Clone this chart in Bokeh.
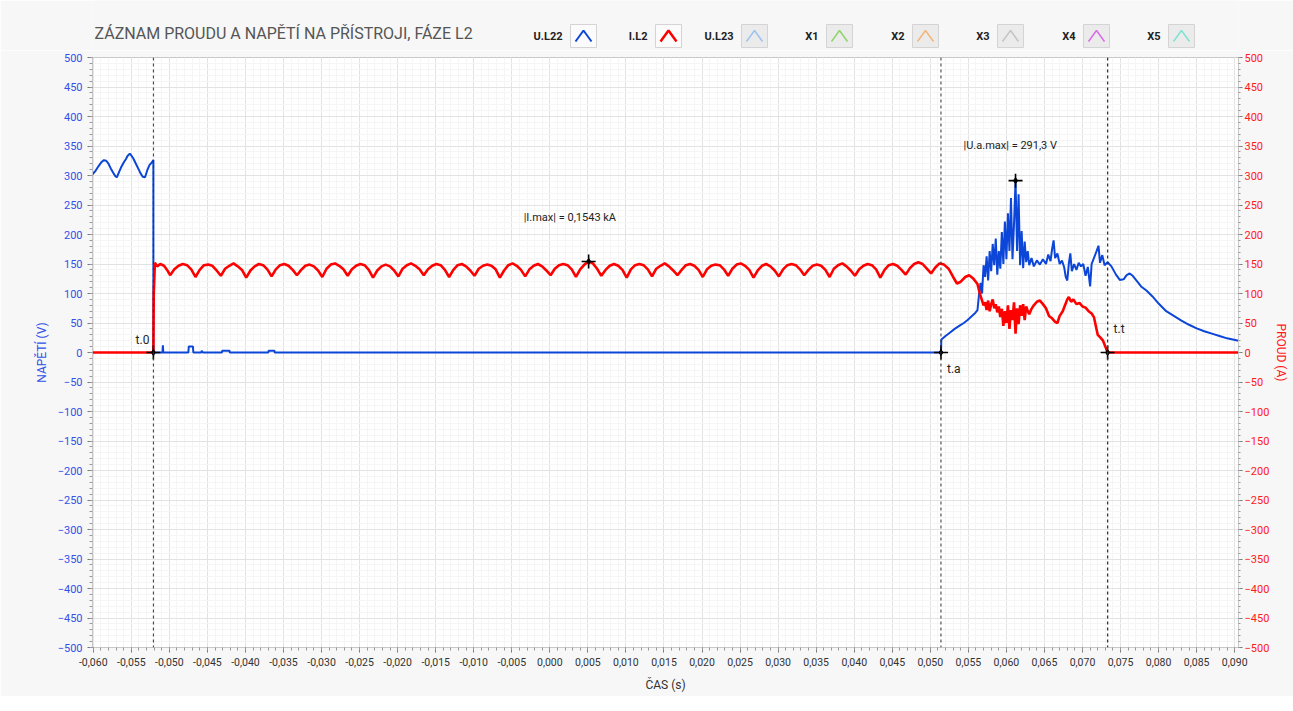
import numpy as np
from bokeh.plotting import figure
from bokeh.models import Range1d, LinearAxis, FixedTicker, CustomJSTickFormatter, Span, Label
from bokeh.layouts import column
from bokeh.embed import file_html
from bokeh.resources import INLINE
from bokeh.core.properties import value

FONT = "Roboto"

# ---------------- texts ----------------
titulek = "ZÁZNAM PROUDU A NAPĚTÍ NA PŘÍSTROJI, FÁZE L2"
nazvy = ["U.L22", "I.L2", "U.L23", "X1", "X2", "X3", "X4", "X5"]
barvy = ["#0b46d8", "#ff0000", "#9dc3f0", "#8fd46a", "#f3b679", "#c4c4c4", "#d96be8", "#7fe3d2"]
osa_x_nazev = "ČAS (s)"
osa_u_nazev = "NAPĚTÍ (V)"
osa_i_nazev = "PROUD (A)"

# ---------------- ticks ----------------
x_ticks = [round(-0.060 + 0.005 * k, 3) for k in range(31)]
x_minor = [round(-0.060 + 0.001 * k, 3) for k in range(151)]
y_ticks = list(range(-500, 501, 50))
y_minor = list(range(-500, 501, 10))

# ---------------- cursors / markers ----------------
t0 = -0.0521
ta = 0.0514
tt = 0.0733
i_max_t, i_max = 0.0051, 154.3
u_max_t, u_max = 0.0612, 291.3
text_i_max = "|I.max| = 0,1543 kA"
text_u_max = "|U.a.max| = 291,3 V"

# ---------------- voltage U.L22 ----------------
cas_u_pred = [-0.0601, -0.0597, -0.0593, -0.0589, -0.0586, -0.0583, -0.0580, -0.0577, -0.0574, -0.0571,
              -0.0569, -0.0566, -0.0563, -0.0560, -0.0557, -0.0555, -0.0552, -0.0550, -0.0547, -0.0544,
              -0.0541, -0.0538, -0.0535, -0.0532, -0.0529, -0.0526, -0.0523, -0.0521]
napeti_pred = [302, 308, 316, 323, 326, 325, 320, 312, 305, 299,
               297, 306, 315, 322, 328, 333, 337, 334, 328, 320,
               312, 304, 298, 297, 309, 318, 322, 326]

cas_u_klid = [-0.0521, -0.0509, -0.05085, -0.0508, -0.0475, -0.04745, -0.0469, -0.04685, -0.0458, -0.04575,
              -0.0456, -0.0431, -0.04305, -0.0421, -0.04205, -0.0370, -0.03695, -0.0362, -0.03615, 0.0514]
napeti_klid = [0, 0, 12, 0, 0, 10, 10, 0, 0, 3,
               0, 0, 3, 3, 0, 0, 3, 3, 0, 0]

cas_u_obl = [0.05145, 0.0520, 0.0526, 0.0532, 0.0538, 0.0544, 0.0549, 0.0554, 0.0559, 0.0562,
             0.0564, 0.0566, 0.0568, 0.0570, 0.0572, 0.0574, 0.0576, 0.0578, 0.0580, 0.0582,
             0.0584, 0.0586, 0.0588, 0.0590, 0.0592, 0.0594, 0.0596, 0.0598, 0.0600, 0.0602,
             0.0604, 0.0606, 0.0608, 0.0610, 0.0612, 0.0614, 0.0616, 0.0618, 0.0620, 0.0622,
             0.0624, 0.0626, 0.0628, 0.0630, 0.0633, 0.0636, 0.0640, 0.0644, 0.0648, 0.0652,
             0.0655, 0.0658, 0.0660, 0.0662, 0.0664, 0.0667, 0.0670, 0.0673, 0.0676, 0.0678,
             0.0680, 0.0682, 0.0684, 0.0686, 0.0689, 0.0692, 0.0695, 0.0698, 0.0701, 0.0704,
             0.0707, 0.0710, 0.0712, 0.0715, 0.0718, 0.0721, 0.0723, 0.0726, 0.0729, 0.0733,
             0.0738, 0.0744, 0.0749, 0.0754, 0.0758, 0.0762, 0.0766, 0.0771, 0.0777, 0.0784,
             0.0792, 0.0800, 0.0810, 0.0820, 0.0830, 0.0840, 0.0850, 0.0860, 0.0870, 0.0880,
             0.0890, 0.0905]
napeti_obl = [22, 28, 34, 40, 45, 50, 55, 61, 67, 72,
              98, 118, 100, 148, 128, 163, 122, 172, 138, 184,
              148, 193, 132, 172, 142, 204, 150, 222, 158, 236,
              172, 262, 158, 218, 291.3, 172, 268, 148, 206, 143,
              188, 153, 172, 148, 160, 146, 156, 149, 158, 150,
              166, 155, 175, 190, 160, 168, 150, 156, 144, 128,
              122, 150, 168, 138, 150, 140, 152, 146, 150, 130,
              145, 112, 150, 160, 170, 181, 152, 165, 148, 153,
              146, 132, 123, 124, 131, 134, 130, 122, 112, 105,
              95, 83, 70, 62, 54, 47, 41, 36, 32, 28,
              24, 20]

# ---------------- current I.L2 ----------------
cas_i_start = [-0.0601, -0.0521, -0.05205, -0.0519, -0.0516, -0.0512, -0.0507, -0.0503]
proud_start = [0, 0, 100, 152, 146, 150, 147, 140]

# ripple samples, 6 per 300 Hz period, starting at the first valley (-0.0499 s)
proud_zvl = [
    131, 141, 147, 150, 148, 141,
    128, 140, 148, 149, 147, 139,
    130, 142, 147, 151, 146, 140,
    127, 139, 146, 150, 148, 141,
    129, 141, 148, 150, 147, 140,
    131, 140, 147, 149, 146, 139,
    128, 142, 149, 151, 147, 141,
    130, 141, 147, 150, 148, 140,
    127, 139, 146, 149, 146, 139,
    129, 142, 148, 151, 147, 141,
    131, 141, 147, 150, 148, 140,
    128, 140, 148, 150, 146, 139,
    130, 142, 147, 149, 147, 141,
    127, 139, 148, 151, 147, 140,
    129, 141, 147, 150, 146, 139,
    131, 142, 148, 150, 148, 141,
    128, 141, 149, 154.3, 151, 142,
    130, 140, 147, 150, 147, 140,
    127, 141, 148, 150, 148, 141,
    129, 142, 147, 151, 146, 139,
    131, 140, 148, 150, 147, 140,
    128, 141, 147, 149, 148, 141,
    130, 142, 149, 151, 147, 140,
    127, 139, 147, 150, 146, 139,
    129, 141, 148, 150, 148, 141,
    131, 140, 147, 149, 147, 140,
    128, 142, 148, 151, 146, 139,
    130, 141, 147, 150, 148, 141,
    127, 140, 148, 150, 147, 140,
    132, 143, 150, 153, 150, 142,
    134, 144, 151,
]
zvl_start = -0.0499
zvl_krok = 0.0033333 / 6

cas_i_obl = [0.0518, 0.0524, 0.0530, 0.0535, 0.0540, 0.0546, 0.0551, 0.0556, 0.0562, 0.0565,
             0.0568, 0.0570, 0.0572, 0.0574, 0.0576, 0.0578, 0.0580, 0.0582, 0.0584, 0.0586,
             0.0588, 0.0590, 0.0592, 0.0594, 0.0596, 0.0598, 0.0600, 0.0602, 0.0604, 0.0606,
             0.0608, 0.0610, 0.0612, 0.0614, 0.0616, 0.0618, 0.0620, 0.0622, 0.0624, 0.0626,
             0.0628, 0.0630, 0.0633, 0.0636, 0.0640, 0.0644, 0.0648, 0.0652, 0.0656, 0.0660,
             0.0664, 0.0667, 0.0670, 0.0674, 0.0677, 0.0680, 0.0682, 0.0685, 0.0688, 0.0692,
             0.0696, 0.0700, 0.0704, 0.0708, 0.0712, 0.0715, 0.0718, 0.0720, 0.0723, 0.0727,
             0.0730, 0.0733, 0.0905]
proud_obl = [149, 142, 128, 117, 120, 128, 131, 126, 116, 100,
             88, 80, 85, 72, 88, 70, 82, 90, 75, 82,
             68, 78, 60, 74, 45, 70, 50, 80, 40, 72,
             55, 85, 32, 75, 48, 80, 62, 82, 55, 78,
             70, 65, 74, 80, 86, 88, 82, 75, 62, 58,
             52, 50, 62, 70, 80, 90, 94, 86, 90, 82,
             84, 78, 76, 70, 66, 60, 42, 30, 26, 20,
             10, 0, 0]

assert len(cas_u_pred) == len(napeti_pred)
assert len(cas_u_klid) == len(napeti_klid)
assert len(cas_u_obl) == len(napeti_obl)
assert len(cas_i_obl) == len(proud_obl)
assert len(cas_i_start) == len(proud_start)

cas_u = cas_u_pred + cas_u_klid + cas_u_obl
napeti = napeti_pred + napeti_klid + napeti_obl
cas_zvl = [zvl_start + k * zvl_krok for k in range(len(proud_zvl))]
cas_i = cas_i_start + cas_zvl + cas_i_obl
proud = proud_start + proud_zvl + proud_obl

# ---------------- layout ----------------
W = 1293
BG = "#f7f7f7"
HEAD_H = 50
FR_L, FR_R = 92, 1238          # frame left/right in page pixels
B_LEFT, B_RIGHT = FR_L, W - FR_R

# header (title + legend); its frame is aligned with the main frame, x/y in page pixels
hlava = figure(width=W, height=HEAD_H, x_range=Range1d(FR_L, FR_R), y_range=Range1d(HEAD_H, 0),
               toolbar_location=None, output_backend="svg", tools="", title=None,
               min_border_left=B_LEFT, min_border_right=B_RIGHT, min_border_top=0, min_border_bottom=0)
hlava.axis.visible = False
hlava.xgrid.visible = False
hlava.ygrid.visible = False
hlava.outline_line_color = None
hlava.background_fill_color = BG
hlava.border_fill_color = BG
hlava.text(x=[94], y=[33], text=[titulek], text_font=value(FONT), text_font_size="16px",
           text_color="#555555", text_baseline="middle", text_align="left")
leg_x = [570, 655, 741, 826, 912, 997, 1083, 1168]
box_fill = ["#fbfbfb", "#fbfbfb"] + ["#ebebeb"] * 6
hlava.quad(left=leg_x, right=[x + 26 for x in leg_x], top=[24] * 8, bottom=[47] * 8,
           fill_color=box_fill, line_color="#d4d4d4", line_width=1)
hlava.multi_line(xs=[[x + 5, x + 13, x + 21] for x in leg_x], ys=[[41, 30, 41]] * 8,
                 line_color=barvy, line_width=[2, 2.5, 1.5, 1.5, 1.5, 1.5, 1.5, 1.5])
hlava.text(x=[x - 8 for x in leg_x], y=[36] * 8, text=nazvy, text_font=value(FONT),
           text_font_size="11px", text_font_style="bold", text_color="#222222",
           text_align="right", text_baseline="middle")

p = figure(width=W, height=646, x_range=Range1d(-0.0601, 0.0905), y_range=Range1d(-500, 500),
           toolbar_location=None, output_backend="svg", tools="", title=None,
           min_border_left=B_LEFT, min_border_right=B_RIGHT, min_border_top=7, min_border_bottom=49)
p.background_fill_color = "white"
p.border_fill_color = BG
p.outline_line_color = "#c8c8c8"

xt = FixedTicker(ticks=x_ticks, minor_ticks=x_minor)
yt = FixedTicker(ticks=y_ticks, minor_ticks=y_minor)
p.xaxis.ticker = xt
p.xgrid.ticker = xt
p.yaxis.ticker = yt
p.ygrid.ticker = yt
p.xaxis.formatter = CustomJSTickFormatter(
    code="var v = Math.abs(tick) < 1e-9 ? 0 : tick; return v.toFixed(3).replace('.', ',');")

p.xgrid.grid_line_color = "#e3e3e3"
p.ygrid.grid_line_color = "#e3e3e3"
p.xgrid.minor_grid_line_color = "#f5f5f5"
p.ygrid.minor_grid_line_color = "#f5f5f5"


def styl_osy(ax, barva):
    ax.axis_line_color = "#c8c8c8"
    ax.major_tick_line_color = "#777777"
    ax.minor_tick_line_color = "#999999"
    ax.major_tick_in = 0
    ax.major_tick_out = 5
    ax.minor_tick_in = 0
    ax.minor_tick_out = 3
    ax.major_label_text_font = FONT
    ax.major_label_text_font_size = "11px"
    ax.major_label_text_color = barva
    ax.axis_label_text_font = FONT
    ax.axis_label_text_font_size = "12px"
    ax.axis_label_text_font_style = "normal"
    ax.axis_label_text_color = barva


xa = p.xaxis[0]
styl_osy(xa, "#333333")
xa.major_label_text_font_size = "10.5px"
xa.axis_label = osa_x_nazev
xa.major_label_standoff = 5
xa.axis_label_standoff = 9

ya = p.yaxis[0]
styl_osy(ya, "#3350e8")
ya.axis_label = osa_u_nazev
ya.major_label_standoff = 5
ya.axis_label_standoff = 6

p.extra_y_ranges = {"proud": Range1d(-500, 500)}
yi = LinearAxis(y_range_name="proud", ticker=FixedTicker(ticks=y_ticks, minor_ticks=y_minor))
styl_osy(yi, "#ff1a1a")
yi.axis_label = osa_i_nazev
yi.major_tick_out = 4
yi.minor_tick_out = 2
yi.major_label_standoff = 2
yi.axis_label_standoff = 2
p.add_layout(yi, "right")

# series
p.line(cas_u, napeti, line_color=barvy[0], line_width=2)
p.line(cas_i, proud, line_color=barvy[1], line_width=2.6, y_range_name="proud")

# cursors
for loc, w in [(t0, 1), (ta, 1), (tt, 1.3)]:
    p.add_layout(Span(location=loc, dimension="height", line_color="#333333",
                      line_dash="3 3", line_width=w))

bx = [t0, ta, tt]
by = [0, 0, 0]
p.scatter(bx, by, marker="cross", size=14, line_color="black", line_width=1.6)
p.scatter(bx, by, marker="diamond", size=6, color="black")
p.scatter([i_max_t], [i_max], marker="cross", size=14, line_color="black", line_width=1.6,
          y_range_name="proud")
p.scatter([i_max_t], [i_max], marker="diamond", size=6, color="black", y_range_name="proud")
p.scatter([u_max_t], [u_max], marker="cross", size=14, line_color="black", line_width=1.6)
p.scatter([u_max_t], [u_max], marker="diamond", size=6, color="black")

lab = dict(text_font=FONT, text_font_size="12px", text_color="#222222")
p.add_layout(Label(x=t0, y=0, x_offset=-4, y_offset=6, text="t.0", text_align="right",
                   text_baseline="bottom", **lab))
p.add_layout(Label(x=ta, y=0, x_offset=6, y_offset=-9, text="t.a", text_align="left",
                   text_baseline="top", **lab))
p.add_layout(Label(x=tt, y=0, x_offset=6, y_offset=17, text="t.t", text_align="left",
                   text_baseline="bottom", **lab))
p.add_layout(Label(x=i_max_t, y=i_max, x_offset=-65, y_offset=44, text=text_i_max,
                   text_align="left", text_baseline="middle", y_range_name="proud",
                   text_font=FONT, text_font_size="11px", text_color="#222222"))
p.add_layout(Label(x=u_max_t, y=u_max, x_offset=-52, y_offset=35, text=text_u_max,
                   text_align="left", text_baseline="middle",
                   text_font=FONT, text_font_size="11px", text_color="#222222"))

layout = column(hlava, p, spacing=0)
open("out.html", "w").write(file_html(layout, INLINE))
